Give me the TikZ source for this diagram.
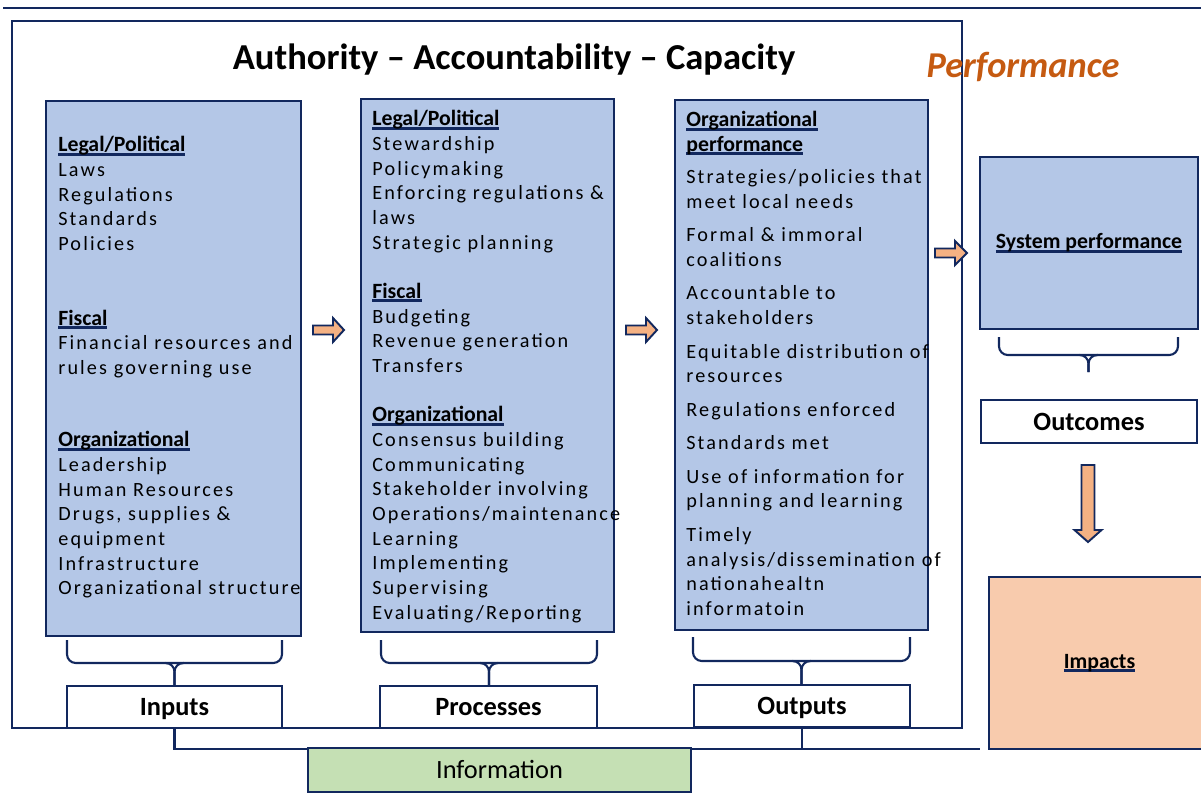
\documentclass[tikz,border=0pt]{standalone}
\usepackage{fontspec}
\setmainfont{Carlito}
\newfontfamily\headfont{Carlito}
\newfontfamily\bodyfont[LetterSpace=10.5]{Carlito}
\usetikzlibrary{fit}

\definecolor{navy}{HTML}{12285E}
\definecolor{boxblue}{HTML}{B4C7E7}
\definecolor{peach}{HTML}{F4B183}
\definecolor{impactfill}{HTML}{F8CBAD}
\definecolor{infogreen}{HTML}{C5E0B4}
\definecolor{perforange}{HTML}{C55A11}

% bold heading with a navy bar under it
\newcommand{\hd}[1]{\setbox0\hbox{\headfont\fontsize{12.4}{14}\selectfont\bfseries #1}\rlap{\textcolor{navy}{\rule[-2.2pt]{\wd0}{1.7pt}}}\box0}
% brace: left x, right x, top y, bar y, tip y
\newcommand{\gbrace}[5]{%
  \draw[brace] (#1,#3) |- ({(#1+#2)/2},#4) -| (#2,#3);
  \draw[brace] ({(#1+#2)/2-9},#4) -| ({(#1+#2)/2},#5);
  \draw[brace] ({(#1+#2)/2+9},#4) -| ({(#1+#2)/2},#5);}

\begin{document}
\begin{tikzpicture}[x=0.2mm, y=-0.2mm,
    frame/.style={draw=navy, line width=1.2pt, inner sep=0pt},
    colbox/.style={draw=navy, line width=1.3pt, fill=boxblue, inner sep=0pt},
    lblbox/.style={draw=navy, line width=1.3pt, fill=white, inner sep=0pt, minimum height=8.4mm, text height=10.7pt, text depth=1pt, font=\headfont\fontsize{15}{18}\selectfont\bfseries},
    coltext/.style={anchor=north west, inner sep=0pt, align=left, font=\bodyfont\fontsize{11.5}{14.05}\selectfont},
    brace/.style={draw=navy, line width=1.2pt, rounded corners=5pt},
    blockarrow/.style={draw=navy, line width=1.1pt, fill=peach, line join=miter},
    link/.style={draw=navy, line width=1.2pt}
  ]
  \useasboundingbox (0,0) rectangle (1201,797);

  % top rule and outer frame
  \draw[link] (3,8) -- (1201,8);
  \node[frame, fit={(12,21) (962,728)}] (frame) {};

  \node[font=\headfont\fontsize{20.8}{24}\selectfont\bfseries] (title) at (514,60) {Authority – Accountability – Capacity};
  \node[font=\headfont\fontsize{20.7}{24}\selectfont\bfseries\itshape, text=perforange] (perf) at (1023,67) {Performance};

  % the three columns
  \node[colbox, fit={(46,101) (301,636)}] (inbox) {};
  \node[colbox, fit={(361,99) (614,632)}] (procbox) {};
  \node[colbox, fit={(675,100) (928,630)}] (outbox) {};

  \node[coltext] (intext) at (58,136) {\hd{Legal/Political}\\ Laws\\ Regulations\\ Standards\\ Policies\\[28.5pt]
    \hd{Fiscal}\\ Financial resources and\\ rules governing use\\[27pt]
    \hd{Organizational}\\ Leadership\\ Human Resources\\ Drugs, supplies \&\\ equipment\\ Infrastructure\\ Organizational structure};

  \node[coltext] (proctext) at (372,110) {\hd{Legal/Political}\\ Stewardship\\ Policymaking\\ Enforcing regulations \&\\ laws\\ Strategic planning\\[14pt]
    \hd{Fiscal}\\ Budgeting\\ Revenue generation\\ Transfers\\[14pt]
    \hd{Organizational}\\ Consensus building\\ Communicating\\ Stakeholder involving\\ Operations/maintenance\\ Learning\\ Implementing\\ Supervising\\ Evaluating/Reporting};

  \node[coltext] (outtext) at (686,111) {\hd{Organizational}\\ \hd{performance}\\[4.3pt]
    Strategies/policies that\\ meet local needs\\[5pt]
    Formal \& immoral\\ coalitions\\[5pt]
    Accountable to\\ stakeholders\\[5pt]
    Equitable distribution of\\ resources\\[5pt]
    Regulations enforced\\[5pt]
    Standards met\\[5pt]
    Use of information for\\ planning and learning\\[5pt]
    Timely\\ analysis/dissemination of\\ nationahealtn\\ informatoin};

  % block arrows
  \draw[blockarrow, shift={(313,330)}] (0,-4.5) -- (20,-4.5) -- (20,-12) -- (31,0) -- (20,12) -- (20,4.5) -- (0,4.5) -- cycle;
  \draw[blockarrow, shift={(626,330)}] (0,-4.5) -- (20,-4.5) -- (20,-12) -- (31,0) -- (20,12) -- (20,4.5) -- (0,4.5) -- cycle;
  \draw[blockarrow, shift={(935,253)}] (0,-4.5) -- (20,-4.5) -- (20,-12) -- (32,0) -- (20,12) -- (20,4.5) -- (0,4.5) -- cycle;
  \draw[blockarrow, shift={(1088,465)}] (-6.5,0) -- (6.5,0) -- (6.5,65) -- (13.5,65) -- (0,77) -- (-13.5,65) -- (-6.5,65) -- cycle;

  % braces and labels
  \gbrace{67}{282}{640}{663}{686}
  \gbrace{381}{597}{640}{663}{686}
  \gbrace{693}{910}{637}{661}{685}
  \gbrace{999}{1178}{337}{355}{372}

  \node[lblbox, minimum width=43mm] (inputs) at (174.5,707) {Inputs};
  \node[lblbox, minimum width=43.4mm] (processes) at (488.5,707) {Processes};
  \node[lblbox, minimum width=43.2mm] (outputs) at (802,706) {Outputs};

  % right hand side
  \node[colbox, minimum width=43.6mm, minimum height=34.4mm] (sysperf) at (1089,243) {\hd{System performance}};
  \node[lblbox, minimum width=43.2mm, minimum height=8.6mm] (outcomes) at (1089,421.5) {Outcomes};
  \node[colbox, fill=impactfill, minimum width=44.2mm, minimum height=34.4mm] (impacts) at (1099.5,663) {\hd{Impacts}};

  % information line
  \draw[link] (inputs.south) |- (980,749);
  \draw[link] (outputs.south) -- (outputs.south |- 0,749);
  \node[colbox, fill=infogreen, minimum width=76.6mm, minimum height=8.8mm, text height=10.7pt, text depth=1pt, font=\headfont\fontsize{15}{18}\selectfont] (info) at (499.5,770) {Information};
\end{tikzpicture}
\end{document}
